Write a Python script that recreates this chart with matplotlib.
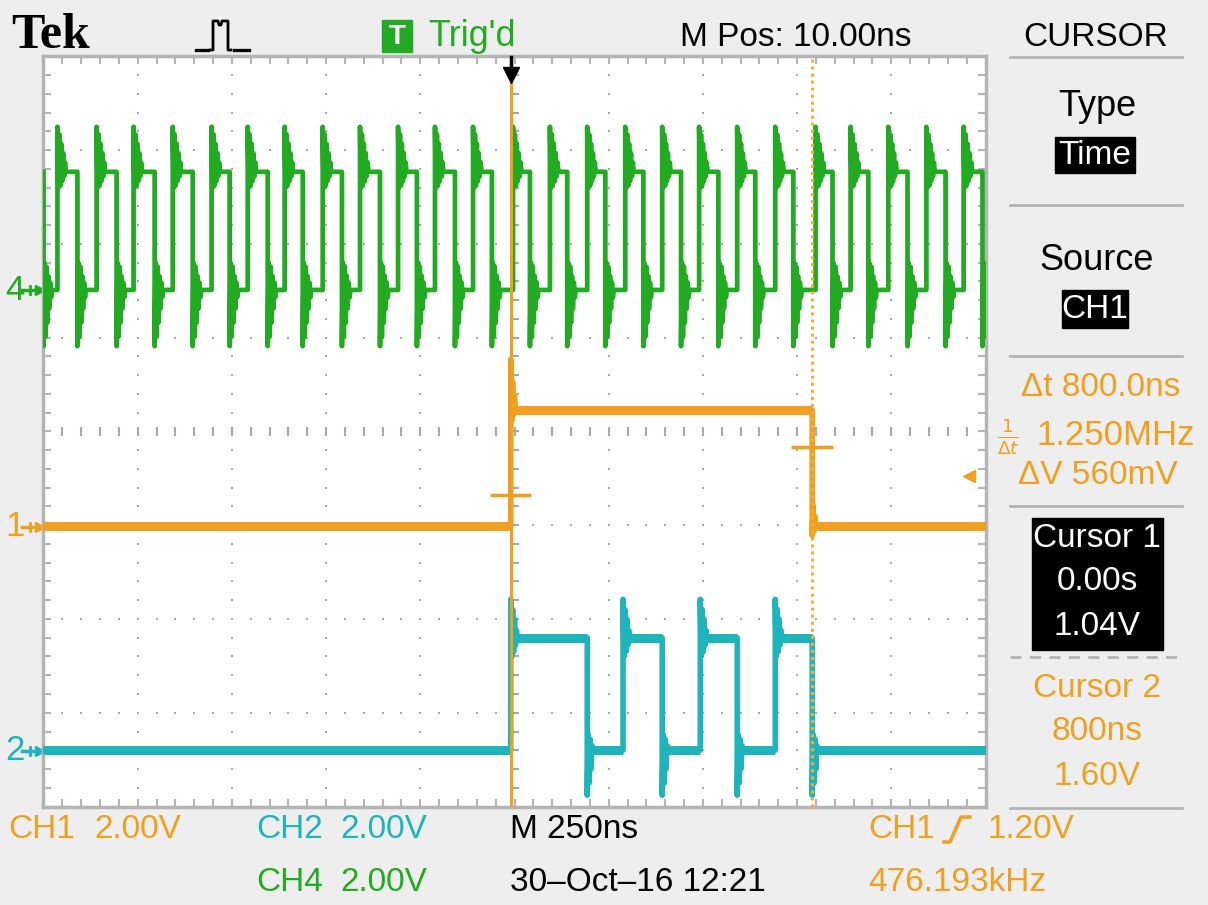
import numpy as np
import matplotlib
matplotlib.use("Agg")
import matplotlib.pyplot as plt
from matplotlib.patches import Rectangle

plt.rcParams['font.family'] = ['Liberation Sans', 'DejaVu Sans']

ORANGE = "#f0a020"
CYAN   = "#1fb3bb"
GREEN  = "#22aa22"
PANEL  = "#eeeeee"
GRIDC  = "#b4b4b4"
DOTC   = "#a8a8a8"

# time axis: 250 ns/div, 10 div, M Pos 10 ns
T_LEFT, T_RIGHT = -1240, 1260

# CH4 clock (green), levels in divisions from screen centre
ch4_low, ch4_high = 1.51, 2.77
ch4_rise = [-1203, -1099, -1001, -897, -794, -698, -600, -499, -400, -299, -201, -100,
            6, 104, 203, 304, 402, 500, 601, 702, 809, 902, 1002, 1103, 1202]
ch4_fall = [-1240, -1150, -1046, -945, -844, -746, -645, -552, -448, -347, -249, -148,
            -50, 51, 150, 251, 352, 452, 551, 649, 750, 854, 949, 1053, 1154, 1252]
ch4_ring_rise = [0.48, -0.17, 0.40, -0.15, 0.30, -0.10, 0.20, -0.05, 0.10, 0.0]
ch4_ring_fall = [-0.60, 0.29, -0.50, 0.25, -0.35, 0.15, -0.20, 0.08, -0.08, 0.0]

# CH1 (orange)
ch1_low, ch1_high = -1.01, 0.23
ch1_rise = [0]
ch1_fall = [800]
ch1_ring_rise = [0.54, -0.12, 0.30, -0.05, 0.15, 0.0]
ch1_ring_fall = [-0.10, 0.22, -0.05, 0.10, 0.0]

# CH2 (cyan)
ch2_low, ch2_high = -3.40, -2.20
ch2_rise = [0, 298, 503, 702]
ch2_fall = [203, 402, 601, 800]
ch2_ring_rise = [0.41, -0.20, 0.30, -0.15, 0.20, -0.08, 0.08, 0.0]
ch2_ring_fall = [-0.48, 0.17, -0.35, 0.12, -0.20, 0.05, 0.0]

# cursors and markers
cursor1_t, cursor2_t = 0, 800
cursor1_v, cursor2_v = -0.68, -0.16
trig_level = -0.47


def edges_of(rises, falls):
    return sorted([(t, 1) for t in rises] + [(t, 0) for t in falls])


def trace(low, high, rises, falls, ring_r, ring_f, start_high, dt=2.5):
    lvl = high if start_high else low
    xs, ys = [T_LEFT], [lvl]
    for t, up in edges_of(rises, falls):
        new = high if up else low
        ring = ring_r if up else ring_f
        xs.append(t); ys.append(lvl)
        for k, r in enumerate(ring):
            xs.append(t + k * dt); ys.append(new + r)
        lvl = new
    xs.append(T_RIGHT); ys.append(lvl)
    return xs, ys


def plateaus(low, high, rises, falls, start_high):
    # flat stretches between edges, drawn thicker to show the noise band
    lvl = high if start_high else low
    t0, segs = T_LEFT, []
    for t, up in edges_of(rises, falls):
        segs.append((t0, t, lvl))
        lvl = high if up else low
        t0 = t + 12
    segs.append((t0, T_RIGHT, lvl))
    return segs


fig = plt.figure(figsize=(12.08, 9.05), dpi=100, facecolor=PANEL)
bg = fig.add_axes([0, 0, 1, 1], zorder=0)
bg.set_xlim(0, 1208); bg.set_ylim(905, 0); bg.axis("off")

L, R, T, B = 43.5, 985.5, 56.5, 806.5
ax = fig.add_axes([L / 1208, 1 - B / 905, (R - L) / 1208, (B - T) / 905], zorder=1)
ax.set_xlim(T_LEFT, T_RIGHT); ax.set_ylim(-4, 4)
ax.set_facecolor("white")
for s in ax.spines.values():
    s.set_color(GRIDC); s.set_linewidth(2.5)
fine_x = np.arange(T_LEFT, T_RIGHT + 1, 50)
fine_y = np.arange(-4, 4.01, 0.2)
ax.set_xticks(fine_x); ax.set_yticks(fine_y)
ax.tick_params(direction="in", length=6, width=1.5, color=GRIDC, top=True, right=True,
               labelbottom=False, labelleft=False)

# dotted graticule
xc = T_LEFT + 1250
for k in range(1, 10):
    if k == 5:
        continue
    ax.plot(np.full_like(fine_y, T_LEFT + 250 * k), fine_y, ls="none", marker="s", ms=1.8,
            mew=0, color=DOTC, zorder=1)
for j in range(-3, 4):
    if j == 0:
        continue
    ax.plot(fine_x, np.full(len(fine_x), j), ls="none", marker="s", ms=1.8, mew=0,
            color=DOTC, zorder=1)
ax.vlines(fine_x, -0.05, 0.05, color=DOTC, lw=1.5, zorder=1)
ax.hlines(fine_y, xc - 12, xc + 12, color=DOTC, lw=1.5, zorder=1)

# traces
x4, y4 = trace(ch4_low, ch4_high, ch4_rise, ch4_fall, ch4_ring_rise, ch4_ring_fall, True)
ax.plot(x4, y4, color=GREEN, lw=3.4, zorder=3)

for args, col, z in [((ch2_low, ch2_high, ch2_rise, ch2_fall, ch2_ring_rise, ch2_ring_fall), CYAN, 3),
                     ((ch1_low, ch1_high, ch1_rise, ch1_fall, ch1_ring_rise, ch1_ring_fall), ORANGE, 4)]:
    low, high, rises, falls, rr, rf = args
    xs, ys = trace(low, high, rises, falls, rr, rf, False)
    ax.plot(xs, ys, color=col, lw=4, zorder=z)
    segs = plateaus(low, high, rises, falls, False)
    ax.hlines([s[2] for s in segs], [s[0] for s in segs], [s[1] for s in segs],
              color=col, lw=6.5, zorder=z)

# cursors
ax.axvline(cursor1_t, color=ORANGE, lw=2.2, zorder=5)
ax.axvline(cursor2_t, color="#f2b030", lw=2.2, ls=(0, (1, 1.3)), zorder=5)
ax.hlines(cursor1_v, cursor1_t - 55, cursor1_t + 55, color=ORANGE, lw=2.5, zorder=5)
ax.hlines(cursor2_v, cursor2_t - 55, cursor2_t + 55, color=ORANGE, lw=2.5, zorder=5)
ax.plot([1215], [trig_level], marker="<", ms=9, color=ORANGE, clip_on=False, zorder=6)

# trigger position arrow
ax.plot([0, 0], [4, 3.8], color="black", lw=2.5, zorder=6, clip_on=False)
ax.plot([0], [3.8], marker="v", ms=12, color="black", zorder=7, clip_on=False)

# channel ground markers
for lab, lvl, col in [("4", ch4_low, GREEN), ("1", ch1_low, ORANGE), ("2", ch2_low, CYAN)]:
    yp = 432 - lvl * 93.75
    bg.text(5, yp, lab, color=col, fontsize=25, va="center", ha="left")
    bg.plot([22, 40], [yp, yp], color=col, lw=2.5)
    bg.plot([40], [yp], marker=">", ms=7, color=col)
    bg.plot([30, 30], [yp - 4, yp + 4], color=col, lw=2)

# header
FS = 24
bg.text(11, 48, "Tek", family=["Liberation Serif", "DejaVu Serif"], weight="bold",
        fontsize=36, va="baseline")
bg.plot([196, 199, 202, 205, 208], [50] * 5, ls="none", marker="s", ms=2, color="black")
bg.plot([210, 213, 213, 218, 219, 221, 222, 228, 228, 231],
        [50, 50, 21, 21, 25, 25, 21, 21, 50, 50], color="black", lw=2)
bg.plot([234, 237, 240, 243, 246, 249], [50] * 6, ls="none", marker="s", ms=2, color="black")
bg.add_patch(Rectangle((382, 20), 30, 32, color=GREEN))
bg.text(397, 37, "T", color="white", fontsize=20, ha="center", va="center", weight="bold")
bg.text(428, 46, "Trig'd", color=GREEN, fontsize=FS + 2, va="baseline")
bg.text(680, 46, "M Pos: 10.00ns", color="black", fontsize=FS, va="baseline")
bg.text(1096, 46, "CURSOR", color="black", fontsize=FS, va="baseline", ha="center")

# side panel
for y in [57, 205, 356, 506, 808]:
    bg.plot([1010, 1182], [y, y], color=GRIDC, lw=2)
bg.plot([1010, 1182], [657, 657], color=GRIDC, lw=2, ls=(0, (4, 3)))
PX = 1097
bg.text(PX, 107, "Type", fontsize=FS + 2, ha="center", va="center")
bg.add_patch(Rectangle((1055, 137), 80, 36, color="black"))
bg.text(PX - 2, 155, "Time", color="white", fontsize=FS, ha="center", va="center")
bg.text(PX, 260, "Source", fontsize=FS + 2, ha="center", va="center")
bg.add_patch(Rectangle((1062, 290), 66, 38, color="black"))
bg.text(PX - 2, 309, "CH1", color="white", fontsize=FS, ha="center", va="center")
bg.text(1180, 387, "\u0394t 800.0ns", color=ORANGE, fontsize=FS, ha="right", va="center")
bg.text(1008, 437, r"$\frac{1}{\Delta t}$", color=ORANGE, fontsize=19, ha="center", va="center")
bg.text(1195, 435, "1.250MHz", color=ORANGE, fontsize=FS + 1, ha="right", va="center")
bg.text(1178, 475, "\u0394V 560mV", color=ORANGE, fontsize=FS, ha="right", va="center")
bg.add_patch(Rectangle((1032, 518), 131, 132, color="black"))
bg.text(PX, 538, "Cursor 1", color="white", fontsize=FS, ha="center", va="center")
bg.text(PX, 581, "0.00s", color="white", fontsize=FS, ha="center", va="center")
bg.text(PX, 626, "1.04V", color="white", fontsize=FS, ha="center", va="center")
bg.text(PX, 688, "Cursor 2", color=ORANGE, fontsize=FS, ha="center", va="center")
bg.text(PX, 731, "800ns", color=ORANGE, fontsize=FS, ha="center", va="center")
bg.text(PX, 776, "1.60V", color=ORANGE, fontsize=FS, ha="center", va="center")

# bottom status lines
bg.text(8, 829, "CH1", color=ORANGE, fontsize=FS, va="center")
bg.text(94, 829, "2.00V", color=ORANGE, fontsize=FS, va="center")
bg.text(256, 829, "CH2", color=CYAN, fontsize=FS, va="center")
bg.text(340, 829, "2.00V", color=CYAN, fontsize=FS, va="center")
bg.text(256, 882, "CH4", color=GREEN, fontsize=FS, va="center")
bg.text(340, 882, "2.00V", color=GREEN, fontsize=FS, va="center")
bg.text(510, 829, "M 250ns", color="black", fontsize=FS, va="center")
bg.text(510, 882, "30\u2013Oct\u201316 12:21", color="black", fontsize=FS, va="center")
bg.text(868, 829, "CH1", color=ORANGE, fontsize=FS, va="center")
bg.plot([944, 950, 961, 970], [842, 842, 817, 817], color=ORANGE, lw=2.5)
bg.text(988, 829, "1.20V", color=ORANGE, fontsize=FS, va="center")
bg.text(868, 882, "476.193kHz", color=ORANGE, fontsize=FS, va="center")

fig.savefig("out.png", dpi=100, facecolor=PANEL)
